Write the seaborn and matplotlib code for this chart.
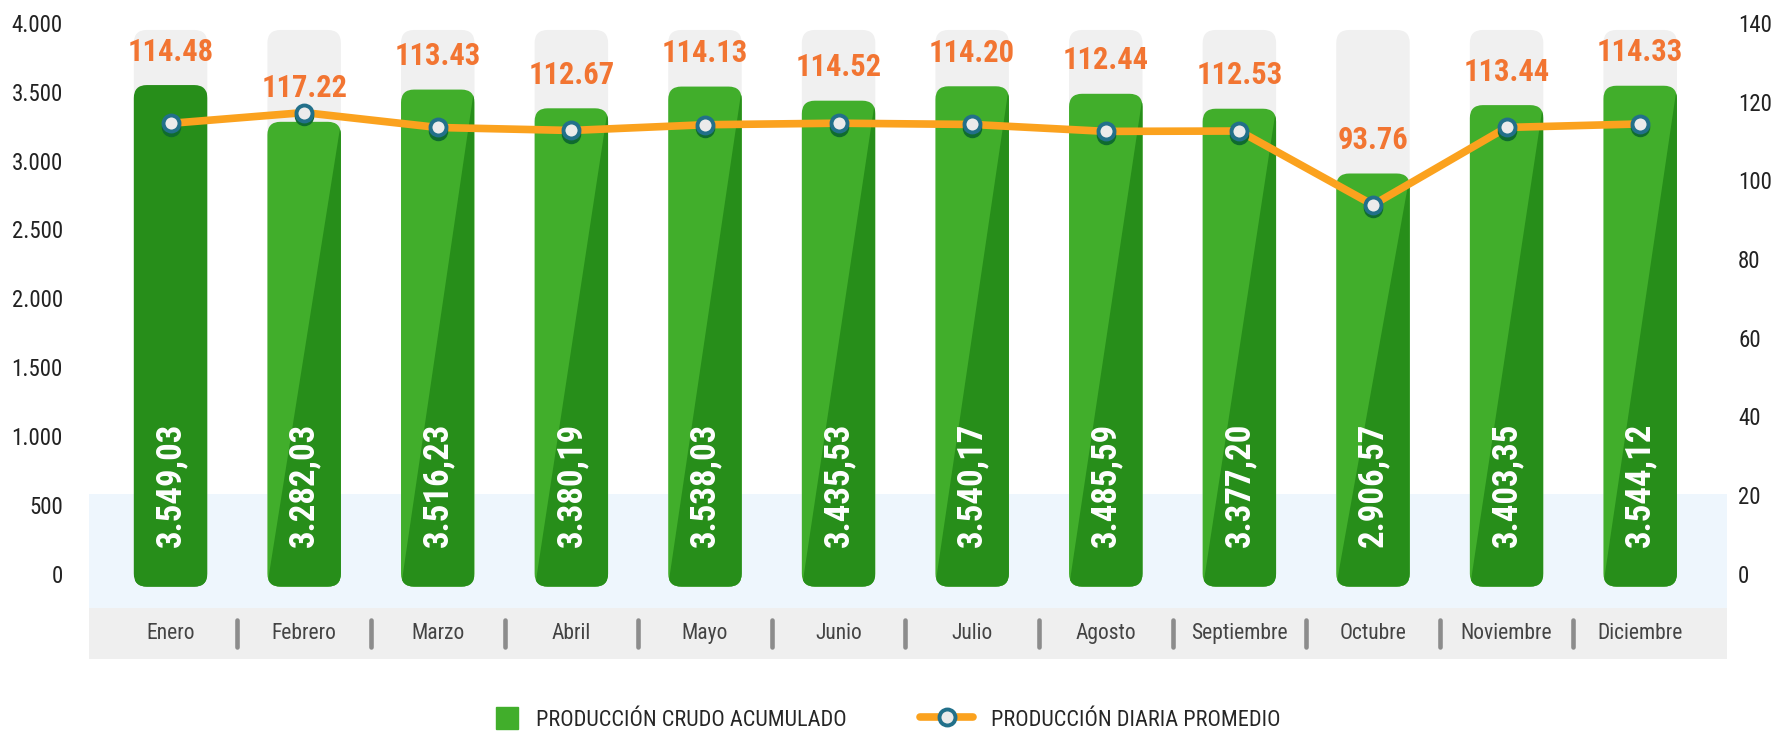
import numpy as np
import matplotlib
matplotlib.use("Agg")
import matplotlib.pyplot as plt
import seaborn as sns
from matplotlib import font_manager
from matplotlib.patches import FancyBboxPatch, Polygon, Rectangle, Patch
from matplotlib.lines import Line2D
from matplotlib.legend_handler import HandlerPatch
from matplotlib.transforms import offset_copy

meses = ["Enero", "Febrero", "Marzo", "Abril", "Mayo", "Junio", "Julio",
         "Agosto", "Septiembre", "Octubre", "Noviembre", "Diciembre"]
acumulado = [3549.03, 3282.03, 3516.23, 3380.19, 3538.03, 3435.53,
             3540.17, 3485.59, 3377.20, 2906.57, 3403.35, 3544.12]
diaria = [114.48, 117.22, 113.43, 112.67, 114.13, 114.52,
          114.20, 112.44, 112.53, 93.76, 113.44, 114.33]
ticks_izq = [0, 500, 1000, 1500, 2000, 2500, 3000, 3500, 4000]
ticks_der = [0, 20, 40, 60, 80, 100, 120, 140]
leyenda = ["PRODUCCIÓN CRUDO ACUMULADO", "PRODUCCIÓN DIARIA PROMEDIO"]

verde = "#41ae2b"
verde_osc = "#278e1a"
naranja = "#fba21e"
naranja_txt = "#f27532"

# fuente estrecha si existe
nombres = {f.name for f in font_manager.fontManager.ttflist}
estrecha = next((n for n in ["Roboto Condensed", "Liberation Sans Narrow",
                             "DejaVu Sans Condensed"] if n in nombres), "Liberation Sans")

sns.set_theme(style="white")
plt.rcParams["font.family"] = [estrecha, "DejaVu Sans"]

fig = plt.figure(figsize=(17.81, 7.34), dpi=100)
ax = fig.add_axes([0.05, 0.1022, 0.9197, 0.8665])

sns.barplot(x=meses, y=acumulado, ax=ax, width=0.55, color=verde, saturation=1)
ax.set_xlim(-0.61, 11.65)
ax.set_ylim(-620, 4000)
barras = list(ax.patches)

# escala de pixeles
p0 = ax.transData.transform((0, 0))
p1 = ax.transData.transform((1, 1))
px_x = p1[0] - p0[0]
px_y = p1[1] - p0[1]
aspecto = px_x / px_y
radio = 13 / px_x
baja = 13 / px_y
tope = ax.get_ylim()[1] - 7 / px_y

# bandas de fondo
ax.axhspan(-250, 580, color="#eef6fd", zorder=0, lw=0)
ax.axhspan(-620, -250, color="#efefef", zorder=0, lw=0)

for i, p in enumerate(barras):
    x, w, h = p.get_x(), p.get_width(), p.get_height()
    p.remove()
    fondo = FancyBboxPatch((x, -baja), w, tope + baja,
                           boxstyle=f"round,pad=0,rounding_size={radio}",
                           mutation_aspect=aspecto, fc="#f0f0f0", ec="none", zorder=1)
    ax.add_patch(fondo)
    caja = FancyBboxPatch((x, -baja), w, h + baja,
                          boxstyle=f"round,pad=0,rounding_size={radio}",
                          mutation_aspect=aspecto,
                          fc=verde_osc if i == 0 else verde, ec="none", zorder=2)
    ax.add_patch(caja)
    sombra = Polygon([(x + w, h), (x + w, -baja), (x, -baja)], closed=True,
                     fc=verde_osc, ec="none", zorder=2.5)
    ax.add_patch(sombra)
    sombra.set_clip_path(caja)
    txt = f"{h:,.2f}".replace(",", "X").replace(".", ",").replace("X", ".")
    ax.annotate(txt, xy=(i, 0), xytext=(0, 19), textcoords="offset points",
                rotation=90, ha="center", va="bottom", color="white",
                fontsize=25, fontweight="bold", zorder=5)

# etiquetas del eje x y separadores
centro = (-620 + -250) / 2
for i, m in enumerate(meses):
    ax.text(i, centro, m, ha="center", va="center", fontsize=15.5, color="#444444")
for i in range(len(meses) - 1):
    ax.plot([i + 0.5, i + 0.5], [centro - 95, centro + 95], color="#8c8c8c",
            lw=3.3, solid_capstyle="round", zorder=1)

ax.set_xticks([])
ax.set_yticks(ticks_izq)
ax.set_yticklabels([f"{t:,}".replace(",", ".") for t in ticks_izq])
ax.tick_params(axis="y", length=0, pad=19, labelsize=16.5, labelcolor="#222222")
ax.set_xlabel("")
ax.set_ylabel("")
for s in ax.spines.values():
    s.set_visible(False)

# eje derecho
ax2 = ax.twinx()
ax2.set_ylim(-620 * 140 / 4000, 140)
pos = np.arange(len(meses))
sns.lineplot(x=pos, y=diaria, ax=ax2, color=naranja, linewidth=5.5, zorder=3)
ax2.plot(pos, diaria, ls="none", marker="o", ms=11.5, mfc="#0f6b2e", mec="#0f6b2e",
         mew=2.5, transform=offset_copy(ax2.transData, fig, x=0, y=-3.5, units="dots"),
         zorder=4)
ax2.plot(pos, diaria, ls="none", marker="o", ms=11.5, mfc="#ebebeb", mec="#22708a",
         mew=2.8, zorder=5)
for i, d in enumerate(diaria):
    ax2.annotate(f"{d:.2f}", xy=(i, acumulado[i]), xycoords=ax.transData,
                 xytext=(0, 24), textcoords="offset points", ha="center", va="center",
                 color=naranja_txt, fontsize=22, fontweight="bold", zorder=6)
ax2.set_yticks(ticks_der)
ax2.tick_params(axis="y", length=0, pad=8, labelsize=16.5, labelcolor="#222222")
ax2.set_ylabel("")
ax2.grid(False)
ax.grid(False)
for s in ax2.spines.values():
    s.set_visible(False)
ax.set_xlim(-0.61, 11.65)


def cuadro(legend, orig_handle, xdescent, ydescent, width, height, fontsize):
    s = height * 1.05
    return Rectangle((-xdescent + width - s, -ydescent + (height - s) / 2), s, s)


h1 = Patch(color=verde)
h2 = Line2D([], [], color=naranja, lw=5.5, marker="o", ms=11.5, mfc="#ebebeb",
            mec="#22708a", mew=2.8)
fig.legend([h1, h2], leyenda, loc="center", bbox_to_anchor=(0.49, 0.0204), ncol=2,
           frameon=False, fontsize=16, handlelength=2.4, handleheight=1.1,
           handletextpad=0.8, columnspacing=3.3,
           handler_map={Patch: HandlerPatch(patch_func=cuadro)})

fig.savefig("out.png", dpi=100)
